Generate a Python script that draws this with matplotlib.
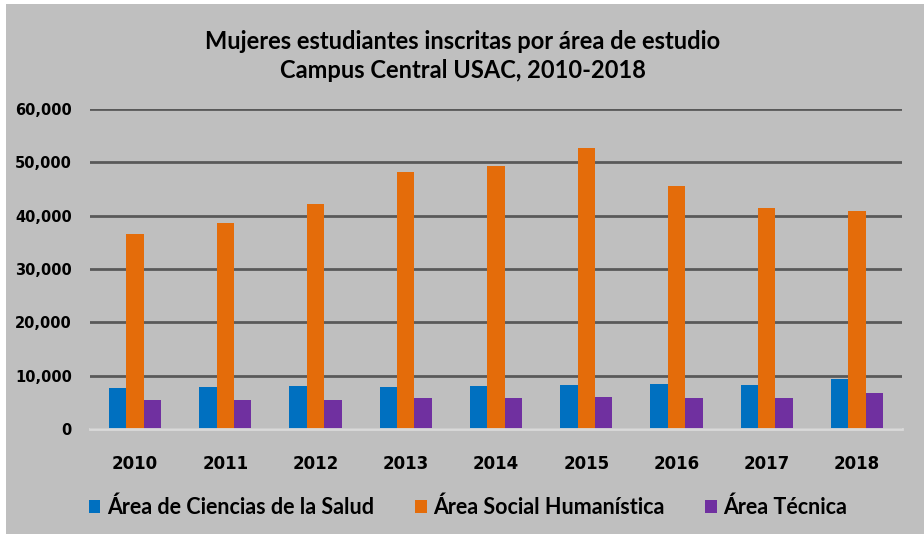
import matplotlib.pyplot as plt
from matplotlib.patches import Rectangle
import numpy as np

# Data: female students enrolled by study area, USAC central campus
years = ['2010', '2011', '2012', '2013', '2014', '2015', '2016', '2017', '2018']
salud = [7700, 7800, 8050, 7800, 8050, 8250, 8450, 8250, 9400]
social = [36600, 38600, 42100, 48200, 49400, 52600, 45600, 41400, 40900]
tecnica = [5500, 5500, 5500, 5750, 5750, 5950, 5750, 5750, 6750]
series_names = ['Área de Ciencias de la Salud', 'Área Social Humanística', 'Área Técnica']
colors = ['#0070C0', '#E46C0A', '#7030A0']
bg = '#BFBFBF'

fig = plt.figure(figsize=(9.24, 5.37), dpi=100)
fig.patch.set_facecolor(bg)
# thin white margins on the left, top and bottom
for r in [(0, 0, 6 / 924, 1), (0, 1 - 4 / 537, 1, 4 / 537), (0, 0, 1, 3 / 537)]:
    fig.patches.append(Rectangle(r[:2], r[2], r[3], transform=fig.transFigure,
                                 facecolor='white', edgecolor='none'))

ax = fig.add_axes([90 / 924, (537 - 429) / 537, 812 / 924, 320 / 537])
ax.set_facecolor(bg)

x = np.arange(len(years))
w = 0.193
for i, vals in enumerate([salud, social, tecnica]):
    ax.bar(x + (i - 1) * w, vals, width=w, color=colors[i], label=series_names[i], zorder=3)

ax.set_xlim(-0.5, len(years) - 0.5)
ax.set_ylim(0, 60000)
ax.set_yticks(np.arange(0, 60001, 10000))
ax.set_yticklabels([f'{v:,}' for v in range(0, 60001, 10000)], fontsize=10.5, fontweight='bold')
ax.set_xticks(x)
ax.set_xticklabels(years, fontsize=12, fontweight='bold')
ax.tick_params(length=0)
ax.tick_params(axis='y', pad=13)
ax.tick_params(axis='x', pad=19)

ax.grid(axis='y', color='#595959', linewidth=2, zorder=1)
for s in ['top', 'right', 'left']:
    ax.spines[s].set_visible(False)
ax.spines['bottom'].set_color('#D9D9D9')
ax.spines['bottom'].set_linewidth(2)
ax.spines['bottom'].set_zorder(4)

fig.text(0.501, (537 - 56) / 537, 'Mujeres estudiantes inscritas por área de estudio\nCampus Central USAC, 2010-2018',
         ha='center', va='center', fontsize=17, fontweight='bold', family='Lato', linespacing=1.3)

leg = fig.legend(loc='center', bbox_to_anchor=(468 / 924, (537 - 507) / 537), ncol=3, frameon=False,
                 handlelength=0.55, handleheight=0.55, handletextpad=0.3, columnspacing=1.9,
                 prop={'family': 'Lato', 'weight': 'bold', 'size': 15.5})

plt.savefig('out.png', dpi=100, facecolor=fig.get_facecolor())
